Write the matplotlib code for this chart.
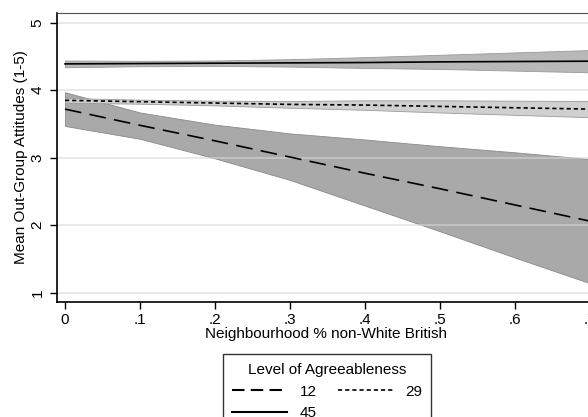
import numpy as np
import matplotlib
matplotlib.use("Agg")
import matplotlib.pyplot as plt
from matplotlib.lines import Line2D

plt.rcParams['font.family'] = ['Liberation Sans', 'DejaVu Sans']

# margins at each share of non-White British neighbours
share = [0, .1, .2, .3, .4, .5, .6, .7]
xticklabels = ["0", ".1", ".2", ".3", ".4", ".5", ".6", ".7"]

# Agreeableness = 12
mean12 = [3.72, 3.48, 3.25, 3.01, 2.77, 2.54, 2.30, 2.06]
lo12 = [3.47, 3.28, 2.99, 2.67, 2.29, 1.91, 1.52, 1.14]
hi12 = [3.97, 3.67, 3.49, 3.36, 3.27, 3.17, 3.08, 2.98]

# Agreeableness = 29
mean29 = [3.85, 3.83, 3.81, 3.79, 3.78, 3.76, 3.74, 3.72]
lo29 = [3.815, 3.80, 3.775, 3.74, 3.71, 3.67, 3.635, 3.60]
hi29 = [3.885, 3.86, 3.845, 3.84, 3.85, 3.85, 3.845, 3.84]

# Agreeableness = 45
mean45 = [4.39, 4.395, 4.40, 4.405, 4.41, 4.42, 4.425, 4.43]
lo45 = [4.34, 4.355, 4.36, 4.35, 4.33, 4.315, 4.29, 4.265]
hi45 = [4.44, 4.435, 4.44, 4.46, 4.49, 4.525, 4.56, 4.595]

fs = 11

fig = plt.figure(figsize=(5.88, 4.17), dpi=100)
ax = fig.add_axes([57/588, 115/417, 541/588, 289/417])

ax.fill_between(share, lo12, hi12, facecolor='#a9a9a9', edgecolor='#8a8a8a', lw=0.6, zorder=1)
ax.fill_between(share, lo29, hi29, facecolor='#d0d0d0', edgecolor='#9a9a9a', lw=0.6, zorder=1)
ax.fill_between(share, lo45, hi45, facecolor='#b8b8b8', edgecolor='#9a9a9a', lw=0.6, zorder=1)

for yv in [1, 2, 3, 4, 5]:
    ax.axhline(yv, color='#d8d8d8', lw=1.3, alpha=0.6, zorder=2)

l12, = ax.plot(share, mean12, color='black', lw=1.2, dashes=(10, 5), zorder=3)
l29, = ax.plot(share, mean29, color='black', lw=1.2, dashes=(2.5, 1.8), zorder=3)
l45, = ax.plot(share, mean45, color='black', lw=1.2, zorder=3)

ax.set_xlim(-0.0107, 0.7107)
ax.set_ylim(0.862, 5.144)
ax.set_xticks(share)
ax.set_xticklabels(xticklabels)
ax.set_yticks([1, 2, 3, 4, 5])
ax.set_yticklabels(["1", "2", "3", "4", "5"], rotation=90, va='center')
ax.tick_params(axis='both', labelsize=fs, length=5, width=1, color='black')
ax.tick_params(axis='x', pad=3)
ax.tick_params(axis='y', pad=4)

ax.spines['left'].set_linewidth(1.2)
ax.spines['bottom'].set_linewidth(1.2)
ax.spines['top'].set_color('#505050')
ax.spines['right'].set_color('#505050')

ax.set_xlabel("Neighbourhood % non-White British", fontsize=fs)
ax.set_ylabel("Mean Out-Group Attitudes (1-5)", fontsize=fs)
ax.xaxis.set_label_coords(0.497, -0.112)
ax.yaxis.set_label_coords(-0.066, 0.5)
ax.xaxis.label.set_va('center')
ax.yaxis.label.set_va('center')

handles = [Line2D([], [], color='black', lw=1.5, dashes=(6, 3)),
           Line2D([], [], color='black', lw=1.5),
           Line2D([], [], color='black', lw=1.2, dashes=(2.5, 1.8))]
leg = fig.legend(handles, ["12", "45", "29"], ncol=2, title="Level of Agreeableness",
                 loc='upper left', bbox_to_anchor=(223/588, 1 - 354/417),
                 fontsize=fs, title_fontsize=fs, frameon=True, fancybox=False,
                 edgecolor='black', handlelength=3.6, handletextpad=0.8,
                 columnspacing=1.4, borderpad=0.6, labelspacing=0.5, borderaxespad=0)
leg.get_frame().set_linewidth(1.0)

fig.savefig("out.png", dpi=100)
